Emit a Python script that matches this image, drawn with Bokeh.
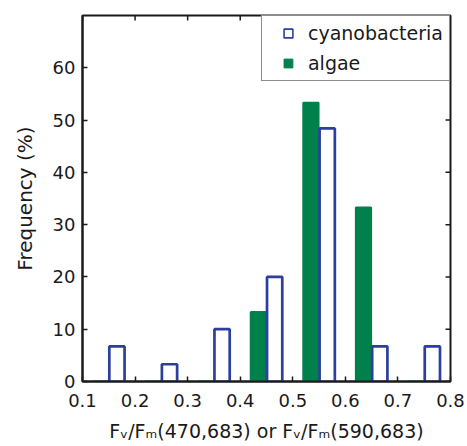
import math
from bokeh.plotting import figure
from bokeh.models import ColumnDataSource, FixedTicker, Legend, LegendItem
from bokeh.transform import dodge
from bokeh.embed import file_html
from bokeh.resources import INLINE

# ---- data ----
bin_centers = [0.15, 0.25, 0.35, 0.45, 0.55, 0.65, 0.75]
cyanobacteria = [6.7, 3.3, 10.0, 20.0, 48.4, 6.7, 6.7]
algae = [0.0, 0.0, 0.0, 13.3, 53.3, 33.3, 0.0]
x_ticks = [0.1, 0.2, 0.3, 0.4, 0.5, 0.6, 0.7, 0.8]
y_ticks = [0, 10, 20, 30, 40, 50, 60]
x_lim = (0.1, 0.8)
y_lim = (0, 70)
series_names = ["cyanobacteria", "algae"]
x_label = "F\u1d65/F\u2098(470,683) or F\u1d65/F\u2098(590,683)"
y_label = "Frequency (%)"

BLUE = "#2c3e9e"
GREEN = "#00804b"
INK = "#1a1a1a"
FONT = "DejaVu Sans"

src = ColumnDataSource(dict(x=bin_centers, cyan=cyanobacteria, alg=algae))

p = figure(width=467, height=446, x_range=x_lim, y_range=y_lim,
           output_backend="svg", toolbar_location=None,
           min_border_left=82, min_border_right=17, min_border_top=15, min_border_bottom=65)
p.grid.visible = False
p.outline_line_color = INK
p.outline_line_width = 2
p.background_fill_color = "white"
p.border_fill_color = "white"

bw = 0.029
p.vbar(x=dodge("x", -0.0155, range=p.x_range), top="alg", bottom=0, width=bw, source=src,
       fill_color=GREEN, line_color=GREEN, line_width=2)
p.vbar(x=dodge("x", 0.0155, range=p.x_range), top="cyan", bottom=0, width=bw, source=src,
       fill_color="white", line_color=BLUE, line_width=2.7)

# axes
for ax in (p.xaxis[0], p.yaxis[0]):
    ax.axis_line_color = INK
    ax.axis_line_width = 2
    ax.major_tick_line_color = INK
    ax.major_tick_line_width = 1.5
    ax.major_tick_in = 5
    ax.major_tick_out = 0
    ax.minor_tick_line_color = None
    ax.major_label_text_font = FONT
    ax.major_label_text_font_size = "18px"
    ax.major_label_text_color = INK
    ax.axis_label_text_font = FONT
    ax.axis_label_text_font_style = "normal"
    ax.axis_label_text_color = INK
p.xaxis[0].ticker = FixedTicker(ticks=x_ticks)
p.yaxis[0].ticker = FixedTicker(ticks=y_ticks)
p.xaxis[0].major_label_standoff = 12
p.yaxis[0].major_label_standoff = 7
p.yaxis[0].axis_label = y_label
p.yaxis[0].axis_label_text_font_size = "20px"
p.yaxis[0].axis_label_standoff = 13
p.xaxis[0].axis_label = x_label
p.xaxis[0].axis_label_text_font_size = "19px"
p.xaxis[0].axis_label_standoff = 10

# mirrored inward ticks on the top and right edges of the box
p.ray(x=x_ticks, y=[y_lim[1]] * len(x_ticks), length=5, length_units="screen",
      angle=-math.pi / 2, line_color=INK, line_width=1.5)
p.ray(x=[x_lim[1]] * len(y_ticks), y=y_ticks, length=5, length_units="screen",
      angle=math.pi, line_color=INK, line_width=1.5)

# legend proxies (not drawn in the plot: NaN position)
nan = float("nan")
r_c = p.scatter(x=[nan], y=[nan], marker="square", fill_color="white", line_color=BLUE, line_width=1.6)
r_a = p.scatter(x=[nan], y=[nan], marker="square", fill_color=GREEN, line_color=GREEN, line_width=1)
legend = Legend(items=[LegendItem(label=series_names[0], renderers=[r_c]),
                       LegendItem(label=series_names[1], renderers=[r_a])],
                location="top_right", margin=0, padding=6, spacing=8,
                glyph_width=40, glyph_height=22, label_height=22, label_standoff=0,
                label_text_font=FONT, label_text_font_size="19px", label_text_color=INK,
                border_line_color=INK, border_line_width=1.5, background_fill_alpha=1.0)
p.add_layout(legend, "center")

open("out.html", "w").write(file_html(p, INLINE))
